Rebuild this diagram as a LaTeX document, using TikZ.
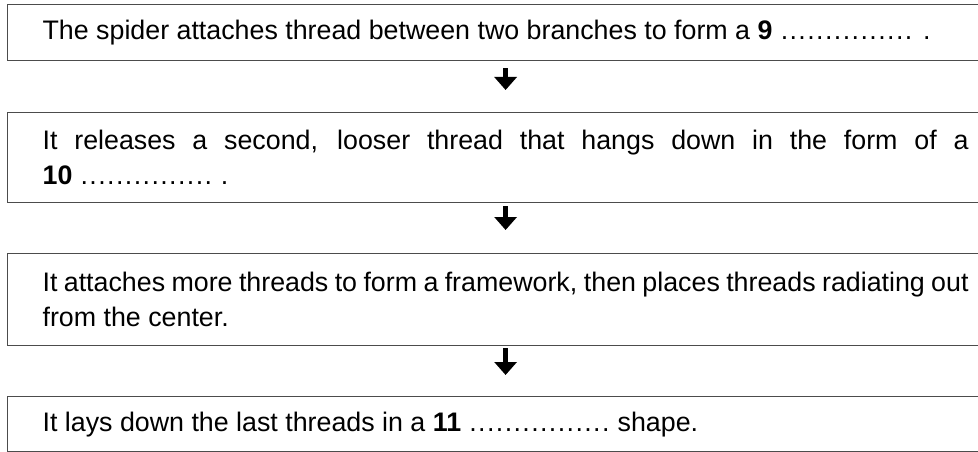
\documentclass[tikz,border=0pt]{standalone}
\usepackage{fontspec}
\setmainfont{Liberation Sans}
\usetikzlibrary{arrows.meta}
\newcommand\blankdots[1]{\hbox to #1{\xleaders\hbox to 8.8pt{\hss.\hss}\hfill}}
\tikzset{
  stepbox/.style={draw=black!70, line width=1.2pt, rectangle, anchor=north west,
    text width=926pt, inner xsep=35pt, inner ysep=0pt, minimum width=996pt,
    align=justify, font=\fontsize{26.8}{35.5}\selectfont},
  flowarrow/.style={line width=5.5pt, black, -{Triangle[width=22pt,length=13pt]}}
}
\begin{document}
\begin{tikzpicture}[x=1pt,y=1pt]
\useasboundingbox (0,0) rectangle (978,-452);
\node[stepbox, minimum height=56pt] (b1) at (7,-4)
  {The spider attaches thread between two branches to form a \textbf{9} \blankdots{133pt}\hspace{10pt}.};
\node[stepbox, minimum height=90pt] (b2) at (7,-112)
  {It releases a second, looser thread that hangs down in the form of a\linebreak \textbf{10} \blankdots{133pt}\hspace{8pt}.};
\node[stepbox, minimum height=92pt] (b3) at (7,-253)
  {It attaches more threads to form a framework, then places threads radiating out\linebreak from the center.};
\node[stepbox, minimum height=55pt] (b4) at (7,-396)
  {It lays down the last threads in a \textbf{11} \blankdots{141.5pt} shape.};
\draw[flowarrow, shorten <=7pt, shorten >=22pt] (b1.south) -- (b2.north);
\draw[flowarrow, shorten <=3pt, shorten >=23pt] (b2.south) -- (b3.north);
\draw[flowarrow, shorten <=2pt, shorten >=21pt] (b3.south) -- (b4.north);
\end{tikzpicture}
\end{document}
